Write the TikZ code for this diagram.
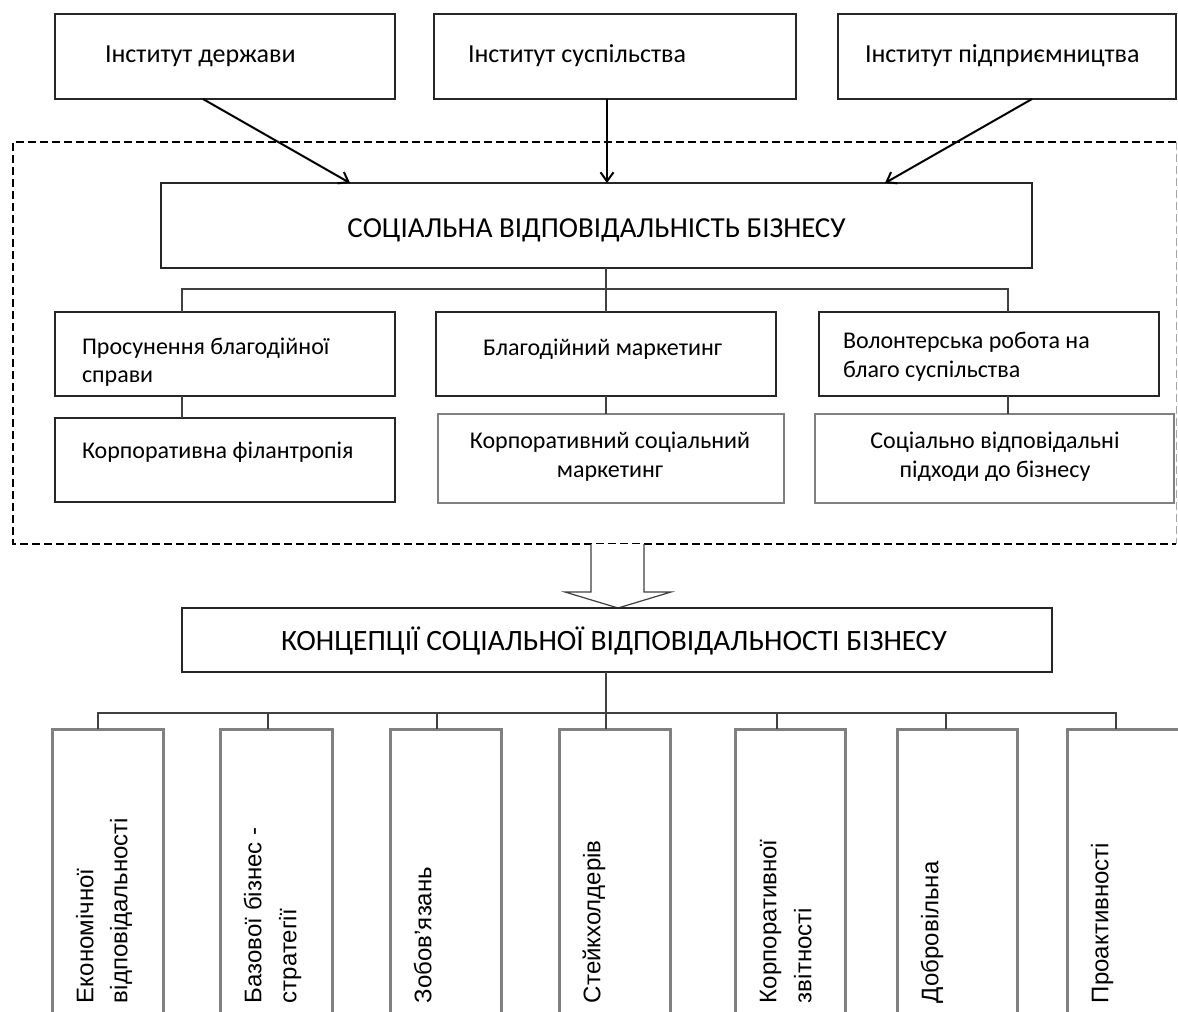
\documentclass[tikz,border=0pt]{standalone}
\usepackage{fontspec}
\setmainfont{Carlito}
\newfontfamily\vfont{Liberation Sans}
\usetikzlibrary{arrows.meta}
\begin{document}
\begin{tikzpicture}[x=1pt,y=-1pt,
  tbox/.style={draw=black!85, line width=1.3pt, inner sep=0pt, outer sep=0pt},
  gbox/.style={draw=black!50, line width=2.6pt, inner sep=0pt, outer sep=0pt},
  vbox/.style={draw=black!50, line width=3pt, inner sep=0pt, outer sep=0pt, minimum height=311pt},
  conn/.style={draw=black!75, line width=1.2pt},
  arr/.style={draw=black, line width=2pt, -{Straight Barb[length=9pt,width=13pt]}},
  lbl/.style={inner sep=0pt, outer sep=0pt, font=\fontsize{24}{29}\selectfont},
  tlbl/.style={inner sep=0pt, outer sep=0pt, font=\fontsize{26}{31}\selectfont},
  vlbl/.style={inner sep=0pt, outer sep=0pt, rotate=90, anchor=mid west, font=\vfont\fontsize{24}{28}\selectfont},
]
\useasboundingbox (0,0) rectangle (1178,1012);
\clip (0,0) rectangle (1178,1012);
\fill[white] (0,0) rectangle (1178,1012);

% top institutions
\node[tbox, minimum width=340pt, minimum height=85pt] (i1) at (225,56.5) {};
\node[tbox, minimum width=362pt, minimum height=85pt] (i2) at (615,56.5) {};
\node[tbox, minimum width=338pt, minimum height=85pt] (i3) at (1007,56.5) {};
\node[tlbl, anchor=base west] (t1) at (105,62) {Інститут держави};
\node[tlbl, anchor=base west] (t2) at (468,62) {Інститут суспільства};
\node[tlbl, anchor=base west] (t3) at (865,62) {Інститут підприємництва};

% dashed frame
\coordinate (fa) at (1176,142);
\coordinate (fb) at (13,142);
\coordinate (fc) at (13,544);
\coordinate (fd) at (1176,544);
\draw[black, line width=2.8pt, dash pattern=on 8pt off 4pt] (fa) -- (fb) -- (fc) -- (fd);
\draw[black!35, line width=1pt, dash pattern=on 8pt off 4pt] (fa) -- (fd);

% main box
\node[tbox, minimum width=871pt, minimum height=85pt] (sv) at (596.5,225.5) {};
\node[inner sep=0pt, font=\fontsize{29}{34}\selectfont, anchor=base] (tsv) at (596.5,237) {СОЦІАЛЬНА ВІДПОВІДАЛЬНІСТЬ БІЗНЕСУ};

\draw[arr] ([xshift=-22pt]i1.south) -- ([xshift=-246.5pt]sv.north);
\draw[arr] ([xshift=-8pt]i2.south) -- ([xshift=10.5pt]sv.north);
\draw[arr] ([xshift=25pt]i3.south) -- ([xshift=288.5pt]sv.north);

% row 2
\node[tbox, minimum width=340pt, minimum height=84pt] (p1) at (225,354) {};
\node[tbox, minimum width=340pt, minimum height=84pt] (p2) at (606,354) {};
\node[tbox, minimum width=340pt, minimum height=84pt] (p3) at (989,354) {};
\node[tbox, minimum width=340pt, minimum height=84pt] (q1) at (225,460) {};
\node[gbox, minimum width=346pt, minimum height=89pt] (q2) at (611,458.5) {};
\node[gbox, minimum width=359pt, minimum height=89pt] (q3) at (994.5,458.5) {};

\node[lbl, anchor=base west] (p1a) at (82,354) {Просунення благодійної};
\node[lbl, anchor=base west] (p1b) at (82,382) {справи};
\node[lbl, anchor=base west] (p2a) at (483,355) {Благодійний маркетинг};
\node[lbl, anchor=base west] (p3a) at (843,348) {Волонтерська робота на};
\node[lbl, anchor=base west] (p3b) at (843,377) {благо суспільства};
\node[lbl, anchor=base west] (q1a) at (82,458) {Корпоративна філантропія};
\node[lbl, anchor=base] (q2a) at (610,448) {Корпоративний соціальний};
\node[lbl, anchor=base] (q2b) at (610,477) {маркетинг};
\node[lbl, anchor=base] (q3a) at (995,448) {Соціально відповідальні};
\node[lbl, anchor=base] (q3b) at (995,477) {підходи до бізнесу};

\draw[conn] ([xshift=9.5pt]sv.south) -- (p2.north);
\draw[conn] ([xshift=-43pt]p1.north) -- ++(0,-23) -| ([xshift=19pt]p3.north);
\draw[conn] ([xshift=-43pt]p1.south) -- ([xshift=-43pt]p1.south |- q1.north);
\draw[conn] (p2.south) -- (p2.south |- q2.north);
\draw[conn] ([xshift=19pt]p3.south) -- ([xshift=19pt]p3.south |- q3.north);

% hollow arrow
\filldraw[draw=black!75, fill=white, line width=1.2pt, line join=miter]
  (591,544) -- (591,592) -- (565,592) -- (618,608) -- (671,592) -- (644,592) -- (644,544);

% concepts box
\node[tbox, minimum width=870pt, minimum height=64pt] (k) at (617,640) {};
\node[inner sep=0pt, font=\fontsize{29.5}{34}\selectfont, anchor=base] (tk) at (614,650) {КОНЦЕПЦІЇ СОЦІАЛЬНОЇ ВІДПОВІДАЛЬНОСТІ БІЗНЕСУ};

% bottom boxes
\node[vbox, minimum width=111pt] (v1) at (107.5,884.5) {};
\node[vbox, minimum width=112pt] (v2) at (276,884.5) {};
\node[vbox, minimum width=111pt] (v3) at (445.5,884.5) {};
\node[vbox, minimum width=111pt] (v4) at (614.5,884.5) {};
\node[vbox, minimum width=110pt] (v5) at (790,884.5) {};
\node[vbox, minimum width=120pt] (v6) at (957,884.5) {};
\node[vbox, minimum width=113pt] (v7) at (1123.5,884.5) {};

\draw[conn] ([xshift=-11pt]k.south) -- ([xshift=-8.5pt]v4.north);
\draw[conn] ([xshift=-9.5pt]v1.north) -- ++(0,-16) -| ([xshift=-7.5pt]v7.north);
\draw[conn] ([xshift=-8pt]v2.north) -- ++(0,-16);
\draw[conn] ([xshift=-8.5pt]v3.north) -- ++(0,-16);
\draw[conn] ([xshift=-13pt]v5.north) -- ++(0,-16);
\draw[conn] ([xshift=-11pt]v6.north) -- ++(0,-16);

\node[vlbl] (v1a) at (91,1003) {Економічної};
\node[vlbl] (v1b) at (125,1003) {відповідальності};
\node[vlbl] (v2a) at (259,1003) {Базової бізнес -};
\node[vlbl] (v2b) at (294,1003) {стратегії};
\node[vlbl] (v3a) at (429,1003) {Зобов’язань};
\node[vlbl] (v4a) at (598,1003) {Стейкхолдерів};
\node[vlbl] (v5a) at (774,1003) {Корпоративної};
\node[vlbl] (v5b) at (809,1003) {звітності};
\node[vlbl] (v6a) at (936,1003) {Добровільна};
\node[vlbl] (v7a) at (1106,1003) {Проактивності};
\end{tikzpicture}
\end{document}
